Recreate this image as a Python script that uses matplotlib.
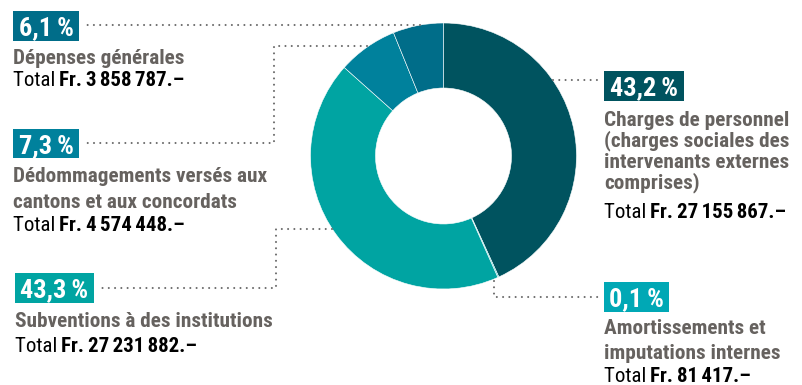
import matplotlib
matplotlib.use("Agg")
import matplotlib.pyplot as plt
from matplotlib.patches import Rectangle

# Budget items, clockwise from 12 o'clock
categories = [
    "Charges de personnel\n(charges sociales des\nintervenants externes\ncomprises)",
    "Amortissements et\nimputations internes",
    "Subventions à des institutions",
    "Dédommagements versés aux\ncantons et aux concordats",
    "Dépenses générales",
]
totals = [27155867, 81417, 27231882, 4574448, 3858787]
colors = ["#00535f", "#00a8b5", "#00a4a2", "#00819c", "#006d89"]

W, H = 803, 385
FONT = ["Roboto Condensed", "DejaVu Sans"]
GRAY = "#66625f"
DOT = "#6a6a6a"


def Y(y):
    # image pixel row -> data y
    return H - y


def fmt_pct(v):
    return f"{v:.1f}".replace(".", ",") + "\u2009%"


def fmt_total(v):
    return "Fr.\u2009" + f"{v:,}".replace(",", "\u2006") + ".–"


fig = plt.figure(figsize=(W / 100, H / 100), dpi=100)
ax = fig.add_axes([0, 0, 1, 1])

ax.pie(
    totals,
    colors=colors,
    startangle=90,
    counterclock=False,
    radius=133,
    center=(443.5, Y(156)),
    wedgeprops=dict(width=65, edgecolor="white", linewidth=0.4),
)
ax.set_xlim(0, W)
ax.set_ylim(0, H)
ax.set_aspect("auto")
ax.axis("off")

# label layout per item: box (x0, y0, x1, y1), text x, line baselines, total baseline, connector path
layout = [
    ((604, 71, 684, 101), 604, [125.5, 146.5, 167.5, 188.5], 218, [(553, 80), (600, 80)]),
    ((604, 282, 669, 312), 604, [334.5, 359], 382, [(494, 281), (494, 297), (601, 297)]),
    ((15, 273, 94, 303), 15, [327], 352, [(332, 229), (276, 229), (276, 288), (98, 288)]),
    ((13, 129, 79, 158), 13, [182.5, 207.5], 231, [(367, 46), (274, 46), (274, 143), (83, 143)]),
    ((13, 11, 79, 41), 13, [64], 86, [(420, 25), (83, 25)]),
]

grand = sum(totals)
for cat, val, col, (box, tx, baselines, tot_y, path) in zip(categories, totals, colors, layout):
    x0, y0, x1, y1 = box
    ax.add_patch(Rectangle((x0, Y(y1)), x1 - x0, y1 - y0, facecolor=col, edgecolor="none"))
    ax.text((x0 + x1) / 2, Y((y0 + y1) / 2), fmt_pct(val / grand * 100), color="white",
            fontsize=19, fontweight="bold", family=FONT, ha="center", va="center_baseline")

    xs = [p[0] for p in path]
    ys = [Y(p[1]) for p in path]
    ax.plot(xs, ys, color=DOT, linewidth=1.5, linestyle=(0, (0.01, 3.0)), dash_capstyle="round")

    for line, yb in zip(cat.split("\n"), baselines):
        ax.text(tx, Y(yb), line, color=GRAY, fontsize=15.3, fontweight="bold", family=FONT,
                ha="left", va="baseline")

    t = ax.text(tx, Y(tot_y), "Total\u2009", color="black", fontsize=15, family=FONT,
                ha="left", va="baseline")
    ax.annotate(fmt_total(val), xy=(1, 0), xycoords=t, color="black", fontsize=15,
                fontweight="bold", family=FONT, ha="left", va="bottom")

fig.savefig("out.png", dpi=100)
